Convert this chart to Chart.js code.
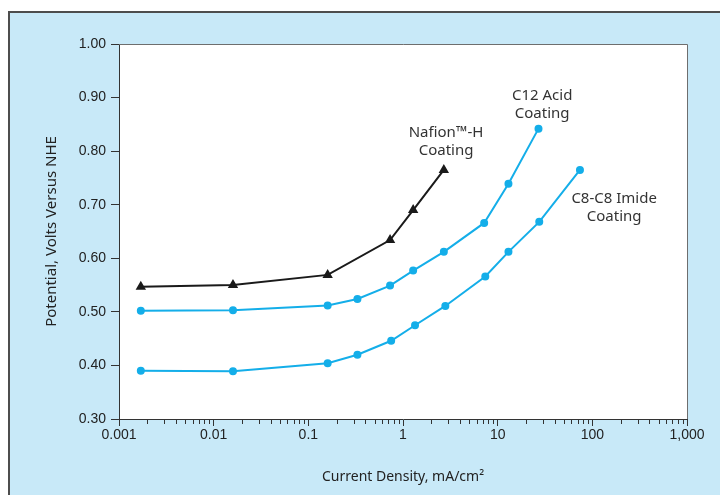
<!DOCTYPE html>
<html lang="en">
<head>
    <meta charset="UTF-8">
    <title>Potential vs Current Density</title>
    <style>
        body {
            margin: 0;
            background-color: #ffffff;
            overflow: hidden;
        }
        .frame {
            position: absolute;
            left: 8px;
            top: 11px;
            width: 730px;
            height: 500px;
            background-color: #c8e9f8;
            border-top: 2px solid #4d4d4d;
            border-left: 2px solid #4d4d4d;
        }
        #chart {
            position: absolute;
            left: 0;
            top: 0;
        }
    </style>
</head>
<body>
    <div class="frame"></div>
    <canvas id="chart" width="720" height="495"></canvas>
    <script src="https://cdn.jsdelivr.net/npm/chart.js"></script>
    <script>
        // current density, mA/cm2
        const nafionX = [0.0017, 0.016, 0.16, 0.73, 1.28, 2.7];
        const nafionY = [0.547, 0.550, 0.569, 0.634, 0.690, 0.765];

        const c12X = [0.0017, 0.016, 0.16, 0.33, 0.73, 1.28, 2.7, 7.2, 13, 27];
        const c12Y = [0.502, 0.503, 0.512, 0.524, 0.549, 0.577, 0.612, 0.666, 0.739, 0.842];

        const c8X = [0.0017, 0.016, 0.16, 0.33, 0.75, 1.34, 2.8, 7.4, 13, 27.5, 74];
        const c8Y = [0.390, 0.389, 0.404, 0.420, 0.446, 0.475, 0.511, 0.566, 0.612, 0.668, 0.765];

        const xTickValues = [0.001, 0.01, 0.1, 1, 10, 100, 1000];
        const xTickLabels = ['0.001', '0.01', '0.1', '1', '10', '100', '1,000'];
        const yTickLabels = ['0.30', '0.40', '0.50', '0.60', '0.70', '0.80', '0.90', '1.00'];

        const seriesLabels = [
            { lines: ['Nafion\u2122-H', 'Coating'], x: 2.85, y: 0.834 },
            { lines: ['C12 Acid', 'Coating'], x: 29.5, y: 0.903 },
            { lines: ['C8-C8 Imide', 'Coating'], x: 170, y: 0.711 }
        ];

        const pts = (xs, ys) => xs.map((x, i) => ({ x: x, y: ys[i] }));

        const blue = '#14aee9';
        const tickFont = { family: '"Liberation Sans", Arial, sans-serif', size: 14 };

        const plotExtras = {
            id: 'plotExtras',
            beforeDraw(chart) {
                const a = chart.chartArea;
                const ctx = chart.ctx;
                ctx.save();
                ctx.fillStyle = '#ffffff';
                ctx.fillRect(a.left, a.top, a.right - a.left, a.bottom - a.top);
                ctx.restore();
            },
            afterDraw(chart) {
                const a = chart.chartArea;
                const ctx = chart.ctx;
                const xs = chart.scales.x;
                const ys = chart.scales.y;
                ctx.save();
                // frame top / right
                ctx.strokeStyle = '#6e6e6e';
                ctx.lineWidth = 1;
                ctx.beginPath();
                ctx.moveTo(a.left, a.top + 0.5);
                ctx.lineTo(a.right + 0.5, a.top + 0.5);
                ctx.lineTo(a.right + 0.5, a.bottom);
                ctx.stroke();
                // minor log ticks
                ctx.strokeStyle = '#333333';
                ctx.beginPath();
                for (let d = 0.001; d < 1000; d *= 10) {
                    for (let m = 2; m <= 9; m++) {
                        const px = Math.round(xs.getPixelForValue(d * m)) + 0.5;
                        ctx.moveTo(px, a.bottom);
                        ctx.lineTo(px, a.bottom + 5);
                    }
                }
                ctx.stroke();
                // series labels
                ctx.fillStyle = '#333333';
                ctx.font = '15px "Noto Sans", sans-serif';
                ctx.textAlign = 'center';
                ctx.textBaseline = 'middle';
                seriesLabels.forEach(l => {
                    const px = xs.getPixelForValue(l.x);
                    const py = ys.getPixelForValue(l.y);
                    l.lines.forEach((t, i) => ctx.fillText(t, px, py + i * 18));
                });
                ctx.restore();
            }
        };

        new Chart(document.getElementById('chart'), {
            type: 'line',
            data: {
                datasets: [
                    {
                        label: 'Nafion-H Coating',
                        data: pts(nafionX, nafionY),
                        borderColor: '#1a1a1a',
                        backgroundColor: '#1a1a1a',
                        borderWidth: 2,
                        pointStyle: 'triangle',
                        pointRadius: 4,
                        tension: 0
                    },
                    {
                        label: 'C12 Acid Coating',
                        data: pts(c12X, c12Y),
                        borderColor: blue,
                        backgroundColor: blue,
                        borderWidth: 2,
                        pointRadius: 3,
                        tension: 0
                    },
                    {
                        label: 'C8-C8 Imide Coating',
                        data: pts(c8X, c8Y),
                        borderColor: blue,
                        backgroundColor: blue,
                        borderWidth: 2,
                        pointRadius: 3,
                        tension: 0
                    }
                ]
            },
            options: {
                responsive: false,
                animation: false,
                devicePixelRatio: 1,
                layout: { padding: { top: 44, right: 33, left: 0, bottom: 0 } },
                plugins: {
                    legend: { display: false },
                    tooltip: { enabled: false }
                },
                scales: {
                    x: {
                        type: 'logarithmic',
                        min: 0.001,
                        max: 1000,
                        afterFit(scale) { scale.height = 76; },
                        afterBuildTicks(scale) {
                            scale.ticks = xTickValues.map(v => ({ value: v, major: true }));
                        },
                        ticks: {
                            color: '#222222',
                            font: tickFont,
                            padding: 1,
                            maxRotation: 0,
                            autoSkip: false,
                            callback: (v, i) => xTickLabels[i]
                        },
                        grid: {
                            drawOnChartArea: false,
                            tickLength: 7,
                            tickColor: '#333333'
                        },
                        border: { color: '#333333', width: 1 },
                        title: {
                            display: true,
                            text: 'Current Density, mA/cm\u00b2',
                            color: '#222222',
                            font: { family: '"Noto Sans", sans-serif', size: 14 },
                            padding: { top: 0, bottom: 10 }
                        }
                    },
                    y: {
                        min: 0.3,
                        max: 1.0,
                        afterFit(scale) { scale.width = 119; },
                        ticks: {
                            stepSize: 0.1,
                            color: '#222222',
                            font: tickFont,
                            padding: 5,
                            callback: (v, i) => yTickLabels[i]
                        },
                        grid: {
                            drawOnChartArea: false,
                            tickLength: 8,
                            tickColor: '#333333'
                        },
                        border: { color: '#333333', width: 1 },
                        title: {
                            display: true,
                            text: 'Potential, Volts Versus NHE',
                            color: '#222222',
                            font: { family: '"Noto Sans", sans-serif', size: 15 },
                            padding: { top: 43, bottom: 0 }
                        }
                    }
                }
            },
            plugins: [plotExtras]
        });
    </script>
</body>
</html>
